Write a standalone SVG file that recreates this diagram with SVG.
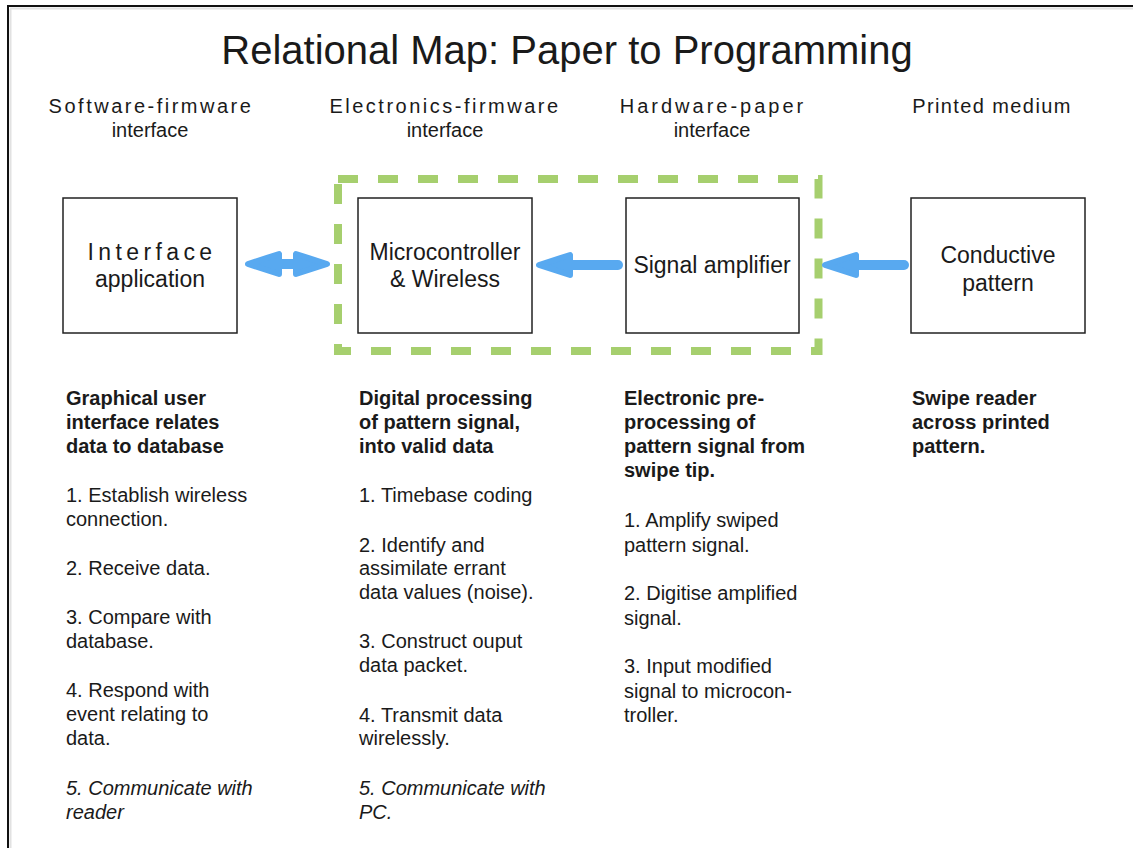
<svg xmlns="http://www.w3.org/2000/svg" width="1133" height="848" viewBox="0 0 1133 848">
<style>
  text { font-family: "Liberation Sans", Arial, sans-serif; fill: #1a1a1a; }
  .title { font-size: 40px; text-anchor: middle; }
  .hdr { font-size: 20px; text-anchor: middle; }
  .sp { letter-spacing: 2.5px; }
  .box { fill: #ffffff; stroke: #222222; stroke-width: 1.5; }
  .lbl { font-size: 23px; text-anchor: middle; }
  .body { font-size: 20px; }
  .b { font-weight: bold; }
  .i { font-style: italic; }
  .shaft { stroke: #58a9f0; stroke-width: 10; stroke-linecap: round; fill: none; }
  .head { fill: #58a9f0; stroke: #58a9f0; stroke-width: 6; stroke-linejoin: round; }
  .group { fill: none; stroke: #a6cf6e; stroke-width: 8; stroke-dasharray: 20 20; }
</style>
<rect x="0" y="0" width="1133" height="848" fill="#ffffff"/>
<!-- frame -->
<line x1="10.5" y1="9" x2="10.5" y2="848" stroke="#e2e2e2" stroke-width="2"/>
<line x1="10" y1="8.5" x2="1133" y2="8.5" stroke="#e2e2e2" stroke-width="2"/>
<line x1="8" y1="5" x2="8" y2="848" stroke="#111111" stroke-width="2"/>
<line x1="7" y1="6" x2="1133" y2="6" stroke="#111111" stroke-width="2"/>

<text class="title" x="567" y="64">Relational Map: Paper to Programming</text>

<g id="headers">
  <text class="hdr sp" x="151" y="113">Software-firmware</text>
  <text class="hdr" x="150" y="137">interface</text>
  <text class="hdr sp" x="445" y="113">Electronics-firmware</text>
  <text class="hdr" x="445" y="137">interface</text>
  <text class="hdr" x="713" y="113" style="letter-spacing:3px">Hardware-paper</text>
  <text class="hdr" x="712" y="137">interface</text>
  <text class="hdr" x="992" y="113" style="letter-spacing:1.4px">Printed medium</text>
</g>

<rect id="group-electronics" class="group" x="338" y="179" width="480.5" height="172"/>

<g id="node-interface">
  <rect class="box" x="63" y="198" width="174" height="135"/>
  <text class="lbl" x="152" y="260" style="letter-spacing:4.4px">Interface</text>
  <text class="lbl" x="150" y="287">application</text>
</g>
<g id="node-micro">
  <rect class="box" x="358" y="198" width="174" height="135"/>
  <text class="lbl" x="445" y="260">Microcontroller</text>
  <text class="lbl" x="445" y="287">&amp; Wireless</text>
</g>
<g id="node-amp">
  <rect class="box" x="626" y="198" width="173" height="135"/>
  <text class="lbl" x="712" y="273">Signal amplifier</text>
</g>
<g id="node-pattern">
  <rect class="box" x="911" y="198" width="174" height="135"/>
  <text class="lbl" x="998" y="263">Conductive</text>
  <text class="lbl" x="998" y="291">pattern</text>
</g>

<g id="connectors">
  <!-- double arrow interface <-> micro -->
  <line class="shaft" x1="275" y1="264" x2="300" y2="264"/>
  <polygon class="head" points="248,264 279,254 279,274"/>
  <polygon class="head" points="327,264 296,254 296,274"/>
  <!-- amp -> micro -->
  <line class="shaft" x1="565" y1="265" x2="618" y2="265"/>
  <polygon class="head" points="539,265 570,255 570,275"/>
  <!-- pattern -> amp -->
  <line class="shaft" x1="850" y1="265" x2="904" y2="265"/>
  <polygon class="head" points="825,265 856,255 856,275"/>
</g>

<g id="text-col1" class="body">
  <text class="b" x="66" y="405">Graphical user</text>
  <text class="b" x="66" y="429">interface relates</text>
  <text class="b" x="66" y="453">data to database</text>
  <text x="66" y="502">1. Establish wireless</text>
  <text x="66" y="526">connection.</text>
  <text x="66" y="575">2. Receive data.</text>
  <text x="66" y="624">3. Compare with</text>
  <text x="66" y="648">database.</text>
  <text x="66" y="697">4. Respond with</text>
  <text x="66" y="721">event relating to</text>
  <text x="66" y="745">data.</text>
  <text class="i" x="66" y="795">5. Communicate with</text>
  <text class="i" x="66" y="819">reader</text>
</g>
<g id="text-col2" class="body">
  <text class="b" x="359" y="405">Digital processing</text>
  <text class="b" x="359" y="429">of pattern signal,</text>
  <text class="b" x="359" y="453">into valid data</text>
  <text x="359" y="502">1. Timebase coding</text>
  <text x="359" y="552">2. Identify and</text>
  <text x="359" y="575">assimilate errant</text>
  <text x="359" y="599">data values (noise).</text>
  <text x="359" y="648">3. Construct ouput</text>
  <text x="359" y="672">data packet.</text>
  <text x="359" y="722">4. Transmit data</text>
  <text x="359" y="745">wirelessly.</text>
  <text class="i" x="359" y="795">5. Communicate with</text>
  <text class="i" x="359" y="819">PC.</text>
</g>
<g id="text-col3" class="body">
  <text class="b" x="624" y="405">Electronic pre-</text>
  <text class="b" x="624" y="429">processing of</text>
  <text class="b" x="624" y="453">pattern signal from</text>
  <text class="b" x="624" y="477">swipe tip.</text>
  <text x="624" y="527">1. Amplify swiped</text>
  <text x="624" y="552">pattern signal.</text>
  <text x="624" y="600">2. Digitise amplified</text>
  <text x="624" y="625">signal.</text>
  <text x="624" y="673">3. Input modified</text>
  <text x="624" y="698">signal to microcon-</text>
  <text x="624" y="722">troller.</text>
</g>
<g id="text-col4" class="body">
  <text class="b" x="912" y="405">Swipe reader</text>
  <text class="b" x="912" y="429">across printed</text>
  <text class="b" x="912" y="453">pattern.</text>
</g>
</svg>
